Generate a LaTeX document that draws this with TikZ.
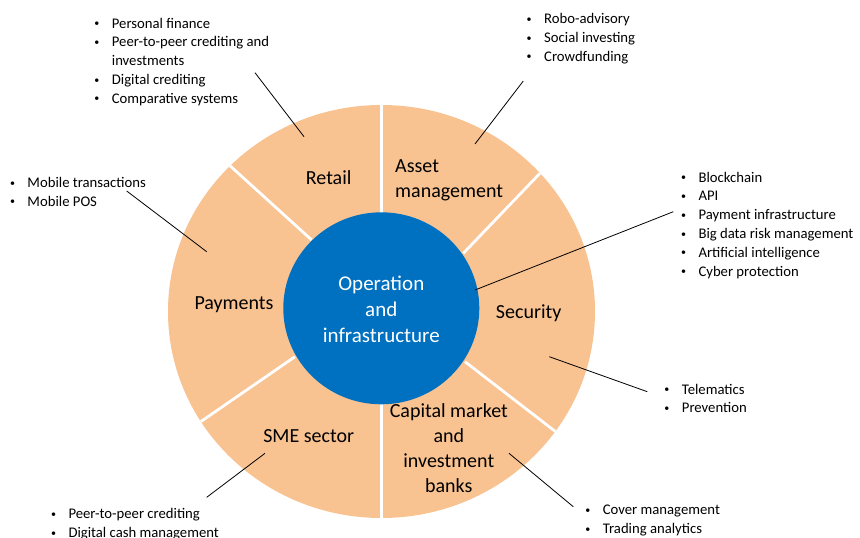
\documentclass[tikz,border=0pt]{standalone}
\usepackage{fontspec}
\setmainfont{Carlito}
\usetikzlibrary{calc}
\definecolor{peach}{HTML}{F8C291}
\definecolor{hubblue}{HTML}{0070C0}
\newcommand{\blist}[1]{\begin{tabular}[t]{@{}c@{\hspace{15pt}}l@{}}#1\end{tabular}}
\newcommand{\bi}{\makebox[0pt]{\raisebox{1.3pt}{\fontsize{10}{10}\selectfont •}}&}
\begin{document}
\begin{tikzpicture}[x=1pt,y=-1pt]
\tikzset{
  seglabel/.style={font=\fontsize{20}{25}\selectfont, inner sep=0pt, text=black},
  listnode/.style={font=\fontsize{14.7}{18.8}\selectfont, inner sep=0pt, anchor=base west},
  divider/.style={white, line width=2.8pt},
  leader/.style={black, line width=0.8pt},
}
\useasboundingbox (0,0) rectangle (860,538);
% ring
\fill[peach] (381.5,311.5) ellipse [x radius=213.5, y radius=206.5];
\begin{scope}
  \clip (381.5,311.5) ellipse [x radius=213.5, y radius=206.5];
  \coordinate (vt1) at (381.5,90);  \coordinate (vt2) at (381.5,310);
  \coordinate (vb1) at (381.5,310); \coordinate (vb2) at (381.5,530);
  \coordinate (ulo) at (231,166.7);   \coordinate (uli) at (311.7,240);
  \coordinate (uro) at (539.3,174);   \coordinate (uri) at (463.3,253.3);
  \coordinate (llo) at (201.7,421);   \coordinate (lli) at (295,356.7);
  \coordinate (lro) at (554.3,430.7); \coordinate (lri) at (465,361.7);
  \draw[divider] (vt1) -- (vt2);
  \draw[divider] (vb1) -- (vb2);
  \draw[divider] ($(uli)!1.3!(ulo)$) -- (uli);
  \draw[divider] ($(uri)!1.3!(uro)$) -- (uri);
  \draw[divider] ($(lli)!1.3!(llo)$) -- (lli);
  \draw[divider] ($(lri)!1.3!(lro)$) -- (lri);
\end{scope}
% hub
\fill[hubblue] (381.3,308.3) ellipse [x radius=98, y radius=96];
\node[font=\fontsize{21}{26}\selectfont, text=white, align=center, inner sep=0pt] (core) at (381.3,309.5) {Operation\\and\\infrastructure};
% segment labels
\node[seglabel] (retail) at (328.7,177.7) {Retail};
\node[seglabel, align=left, anchor=west] (asset) at (395,180) {Asset\\management};
\node[seglabel] (security) at (528.7,313) {Security};
\node[seglabel] (payments) at (234,304.5) {Payments};
\node[seglabel] (sme) at (308.7,436.2) {SME sector};
\node[seglabel, align=center] (capital) at (448.8,448.5) {Capital market\\and\\investment\\banks};
% lists
\node[listnode] (retailList) at (96.7,28) {\blist{\bi Personal finance\\ \bi Peer-to-peer crediting and\\ & investments\\ \bi Digital crediting\\ \bi Comparative systems}};
\node[listnode] (assetList) at (529,23.5) {\blist{\bi Robo-advisory\\ \bi Social investing\\ \bi Crowdfunding}};
\node[listnode] (securityList) at (683.3,182) {\blist{\bi Blockchain\\ \bi API\\ \bi Payment infrastructure\\ \bi Big data risk management\\ \bi Artificial intelligence\\ \bi Cyber protection}};
\node[listnode] (paymentsList) at (12.3,187.4) {\blist{\bi Mobile transactions\\ \bi Mobile POS}};
\node[listnode] (smeList) at (53.3,518.5) {\blist{\bi Peer-to-peer crediting\\ \bi Digital cash management}};
\node[listnode] (telList) at (666.7,394) {\blist{\bi Telematics\\ \bi Prevention}};
\node[listnode] (capList) at (587.7,514.7) {\blist{\bi Cover management\\ \bi Trading analytics}};
% leaders
\coordinate (rA) at (304,136.7);   \coordinate (rB) at (255,72.7);
\coordinate (aA) at (475,144);     \coordinate (aB) at (523.3,81);
\coordinate (pA) at (206.7,251.7); \coordinate (pB) at (126.7,191);
\coordinate (sA) at (475,290);     \coordinate (sB) at (673.3,211.7);
\coordinate (tA) at (549.3,356.7); \coordinate (tB) at (647.3,391.7);
\coordinate (mA) at (265,453.3);   \coordinate (mB) at (206.7,497.3);
\coordinate (cA) at (509,453.3);   \coordinate (cB) at (573.3,506.7);
\draw[leader] (rA) -- (rB);
\draw[leader] (aA) -- (aB);
\draw[leader] (pA) -- (pB);
\draw[leader] (sA) -- (sB);
\draw[leader] (tA) -- (tB);
\draw[leader] (mA) -- (mB);
\draw[leader] (cA) -- (cB);
\end{tikzpicture}
\end{document}
